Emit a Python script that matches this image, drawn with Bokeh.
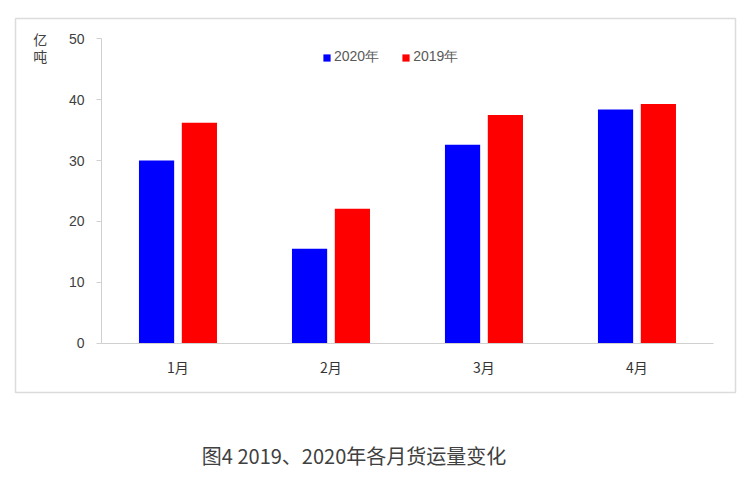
from bokeh.plotting import figure
from bokeh.models import (Range1d, LinearAxis, FixedTicker, Label, Legend, LegendItem,
                          ColumnDataSource)
from bokeh.layouts import column
from bokeh.embed import file_html
from bokeh.resources import INLINE

months = ["1月", "2月", "3月", "4月"]
v2020 = [30.0, 15.5, 32.6, 38.4]
v2019 = [36.2, 22.1, 37.5, 39.3]
yticks = [0, 10, 20, 30, 40, 50]
series_names = ["2020年", "2019年"]
colors = ["#0000ff", "#ff0000"]
unit_label = ["亿", "吨"]
caption = "图4  2019、2020年各月货运量变化"

idx = list(range(len(months)))
centers = [i + 0.5 for i in idx]
off = 0.14
bw = 0.23

p = figure(width=750, height=420, output_backend="svg", toolbar_location=None,
           x_range=Range1d(-0.562, 4.144), y_range=Range1d(-8.1, 53.33),
           x_axis_type=None, y_axis_type=None,
           min_border_left=15, min_border_right=15, min_border_top=18, min_border_bottom=28)
p.outline_line_color = "#dcdcdc"
p.outline_line_width = 1.5
p.xgrid.visible = False
p.ygrid.visible = False
p.background_fill_color = "white"
p.border_fill_color = "white"

src = ColumnDataSource(dict(
    x20=[c - off for c in centers], x19=[c + off for c in centers],
    v20=v2020, v19=v2019))
r20 = p.vbar(x="x20", top="v20", bottom=0, width=bw, source=src,
             fill_color=colors[0], line_color=None)
r19 = p.vbar(x="x19", top="v19", bottom=0, width=bw, source=src,
             fill_color=colors[1], line_color=None)

yaxis = LinearAxis(fixed_location=0, bounds=(0, 50), ticker=FixedTicker(ticks=yticks))
yaxis.axis_line_color = "#d0d0d0"
yaxis.major_tick_line_color = "#d0d0d0"
yaxis.major_tick_out = 5
yaxis.major_tick_in = 0
yaxis.minor_tick_out = 0
yaxis.minor_tick_in = 0
yaxis.major_label_standoff = 12
yaxis.major_label_text_font = "Liberation Sans"
yaxis.major_label_text_font_size = "14px"
yaxis.major_label_text_color = "#404040"
p.add_layout(yaxis, "left")

xaxis = LinearAxis(fixed_location=0, bounds=(0, 4), ticker=FixedTicker(ticks=centers),
                   major_label_overrides={c: m for c, m in zip(centers, months)})
xaxis.axis_line_color = "#d0d0d0"
xaxis.major_tick_out = 0
xaxis.major_tick_in = 0
xaxis.minor_tick_out = 0
xaxis.minor_tick_in = 0
xaxis.major_label_standoff = 14
xaxis.major_label_text_font = "Noto Sans CJK SC"
xaxis.major_label_text_font_size = "14px"
xaxis.major_label_text_color = "#333333"
p.add_layout(xaxis, "below")

for i, ch in enumerate(unit_label):
    p.add_layout(Label(x=-0.40, y=49.9 - i * 2.8, text=ch, text_align="center",
                       text_baseline="middle", text_font="Noto Sans CJK SC",
                       text_font_size="14px", text_color="#404040"))

legend = Legend(items=[LegendItem(label=series_names[0], renderers=[r20]),
                       LegendItem(label=series_names[1], renderers=[r19])],
                orientation="horizontal", location=(307, 326),
                border_line_color=None, background_fill_alpha=0,
                glyph_width=9, glyph_height=9, label_standoff=3, spacing=22,
                padding=0, margin=0,
                label_text_font="Liberation Sans", label_text_font_size="14px",
                label_text_color="#595959")
p.add_layout(legend, "center")

# caption strip
p2 = figure(width=750, height=58, output_backend="svg", toolbar_location=None,
            x_range=Range1d(0, 750), y_range=Range1d(0, 58),
            x_axis_type=None, y_axis_type=None,
            min_border_left=0, min_border_right=0, min_border_top=0, min_border_bottom=0)
p2.outline_line_color = None
p2.xgrid.visible = False
p2.ygrid.visible = False
p2.add_layout(Label(x=355, y=23, text=caption, text_align="center", text_baseline="middle",
                    text_font="Noto Sans CJK SC", text_font_size="20px",
                    text_color="#404040"))

layout = column(p, p2, spacing=0)
open("out.html", "w").write(file_html(layout, INLINE))
